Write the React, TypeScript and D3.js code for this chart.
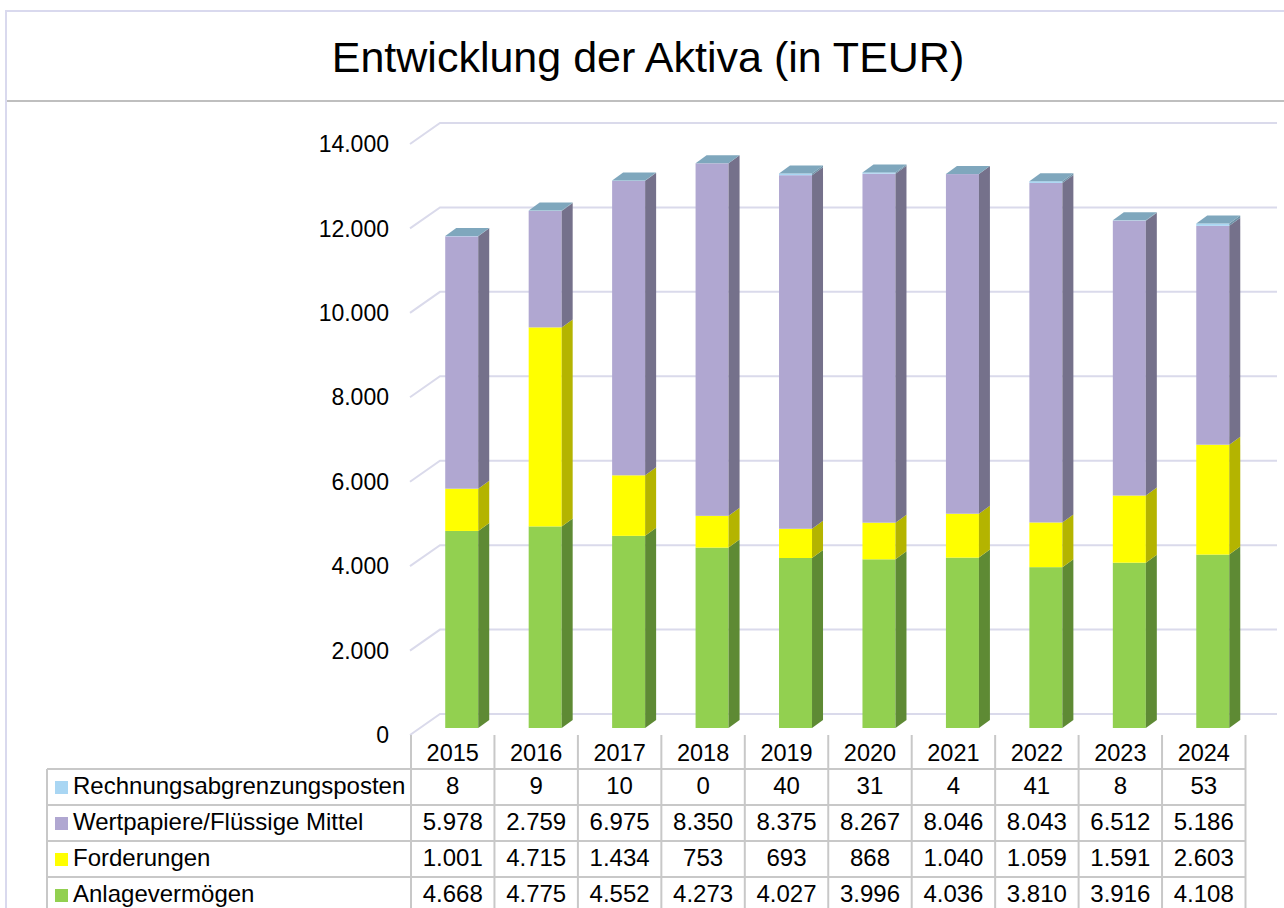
import React from "react";
import { scaleBand, scaleLinear, stack } from "d3";

// values (TEUR)
const years = ["2015", "2016", "2017", "2018", "2019", "2020", "2021", "2022", "2023", "2024"];
const anlagevermoegen = [4668, 4775, 4552, 4273, 4027, 3996, 4036, 3810, 3916, 4108];
const forderungen = [1001, 4715, 1434, 753, 693, 868, 1040, 1059, 1591, 2603];
const wertpapiere = [5978, 2759, 6975, 8350, 8375, 8267, 8046, 8043, 6512, 5186];
const rap = [8, 9, 10, 0, 40, 31, 4, 41, 8, 53];
const yTicks = [0, 2000, 4000, 6000, 8000, 10000, 12000, 14000];

const seriesDefs = [
  { key: "anlage", label: "Anlagevermögen", values: anlagevermoegen, front: "#92D050", side: "#5E8A34", top: "#7DB043" },
  { key: "ford", label: "Forderungen", values: forderungen, front: "#FFFF00", side: "#B4B400", top: "#D8D800" },
  { key: "wp", label: "Wertpapiere/Flüssige Mittel", values: wertpapiere, front: "#B0A7D1", side: "#75718B", top: "#9690B5" },
  { key: "rap", label: "Rechnungsabgrenzungsposten", values: rap, front: "#A9D6F3", side: "#6F93A8", top: "#7FA7BD" },
];

const rows = years.map((y, i) => {
  const r: any = { year: y };
  seriesDefs.forEach((s) => (r[s.key] = s.values[i]));
  return r;
});

const fmt = (v: number) => v.toLocaleString("de-DE");
const FONT = "'Liberation Sans', Arial, sans-serif";

export default function App() {
  const W = 1284, H = 908;
  const x = scaleBand().domain(years).range([411, 1245.5]);
  const y = scaleLinear().domain([0, 14000]).range([735, 144]);
  const depthX = 30, depthY = -21; // back wall offset
  const shiftX = 9, shiftY = -7; // bar position in depth
  const barW = 33, sideX = 11, sideY = -8;

  const stacked = stack<any>().keys(seriesDefs.map((s) => s.key))(rows);

  const tableLeft = 47;
  const rowTop = 769, rowH = 36;
  const tableRows = [...seriesDefs].reverse();
  const colLines = [...years.map((yr) => x(yr)!), 1245.5];

  return (
    <svg width={W} height={H} style={{ position: "absolute", left: 0, top: 0, background: "#fff" }} fontFamily={FONT}>
      {/* outer frame */}
      <rect x={6} y={11} width={W} height={H} fill="none" stroke="#D9D9EE" strokeWidth={2} />
      <line x1={7} x2={W} y1={101} y2={101} stroke="#BFBFBF" strokeWidth={2} />
      <text x={648} y={72} fontSize={43} textAnchor="middle" fill="#000">Entwicklung der Aktiva (in TEUR)</text>

      {/* grid */}
      {yTicks.map((t) => (
        <g key={t}>
          <polyline
            points={`410,${y(t)} ${410 + depthX},${y(t) + depthY} 1277,${y(t) + depthY}`}
            fill="none" stroke="#DADAEB" strokeWidth={2} />
          <text x={389} y={y(t) + 2} fontSize={23} textAnchor="end" dominantBaseline="middle" fill="#000">{fmt(t)}</text>
        </g>
      ))}

      {/* bars */}
      {stacked.map((layer, li) => {
        const s = seriesDefs[li];
        return (
          <g key={s.key}>
            {layer.map((d, i) => {
              const x0 = x(years[i])! + x.bandwidth() / 2 - barW / 2 + shiftX;
              const x1 = x0 + barW;
              const yb = y(d[0]) + shiftY;
              const yt = y(d[1]) + shiftY;
              const isTop = li === stacked.length - 1;
              return (
                <g key={i}>
                  <rect x={x0} y={yt} width={barW} height={Math.max(0, yb - yt)} fill={s.front} />
                  <polygon points={`${x1},${yb} ${x1 + sideX},${yb + sideY} ${x1 + sideX},${yt + sideY} ${x1},${yt}`} fill={s.side} />
                  {isTop && (
                    <polygon points={`${x0},${yt} ${x1},${yt} ${x1 + sideX},${yt + sideY} ${x0 + sideX},${yt + sideY}`} fill={s.top} />
                  )}
                </g>
              );
            })}
          </g>
        );
      })}

      {/* data table */}
      {colLines.map((cx, i) => (
        <line key={i} x1={cx} x2={cx} y1={735} y2={H} stroke="#C8C8C8" strokeWidth={2} />
      ))}
      <line x1={tableLeft} x2={tableLeft} y1={rowTop} y2={H} stroke="#C8C8C8" strokeWidth={2} />
      {tableRows.map((_, ri) => (
        <line key={ri} x1={tableLeft} x2={1245.5} y1={rowTop + ri * rowH} y2={rowTop + ri * rowH} stroke="#C8C8C8" strokeWidth={2} />
      ))}
      {years.map((yr) => (
        <text key={yr} x={x(yr)! + x.bandwidth() / 2} y={755} fontSize={23.5} textAnchor="middle" dominantBaseline="middle" fill="#000">{yr}</text>
      ))}
      {tableRows.map((s, ri) => {
        const cy = rowTop + ri * rowH + rowH / 2 + 1;
        return (
          <g key={s.key}>
            <rect x={55} y={cy - 7} width={13} height={13} fill={s.front} />
            <text x={73} y={cy} fontSize={24} dominantBaseline="middle" fill="#000">{s.label}</text>
            {s.values.map((v, i) => (
              <text key={i} x={x(years[i])! + x.bandwidth() / 2} y={cy} fontSize={24} textAnchor="middle" dominantBaseline="middle" fill="#000">{fmt(v)}</text>
            ))}
          </g>
        );
      })}
    </svg>
  );
}
